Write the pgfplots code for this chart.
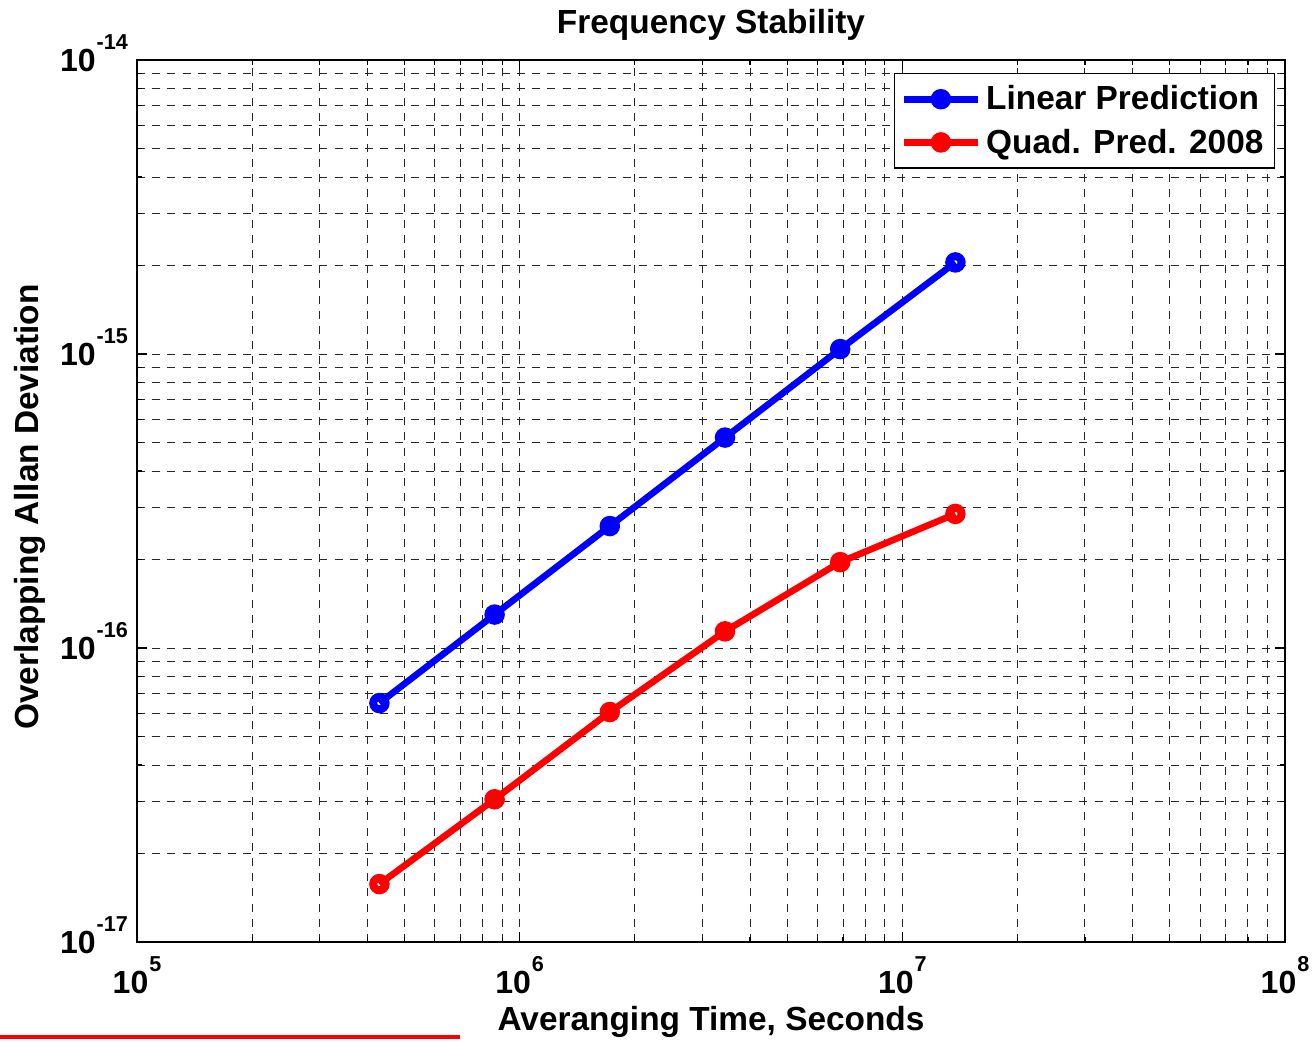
\documentclass[border=0pt]{standalone}
\usepackage{pgfplots}
\pgfplotsset{compat=1.18}
\usepackage{fontspec}
\setmainfont{Liberation Sans}
\newcommand{\tl}[1]{10\hspace{0.5pt}\raisebox{0.7em}{\fontsize{10.8pt}{11pt}\selectfont #1}}
\begin{document}
\begin{tikzpicture}[x=1pt,y=1pt]
\begin{axis}[
  at={(0,0)}, anchor=south west,
  scale only axis, width=574pt, height=441pt,
  xmode=log, ymode=log,
  xmin=1e5, xmax=1e8, ymin=1e-17, ymax=1e-14,
  xtick={1e5,1e6,1e7,1e8},
  xticklabels={\tl{5},\tl{6},\tl{7},\tl{8}},
  ytick={1e-17,1e-16,1e-15,1e-14},
  yticklabels={\tl{-17},\tl{-16},\tl{-15},\tl{-14}},
  ticklabel style={font=\fontsize{16pt}{17pt}\selectfont\bfseries},
  xticklabel style={yshift=-3.5pt},
  yticklabel style={anchor=base east, yshift=-5.7pt, xshift=-1pt},
  grid=both,
  major grid style={black!85, line width=0.5pt, dash pattern=on 4pt off 3.6pt},
  minor grid style={black!85, line width=0.5pt, dash pattern=on 4pt off 3.6pt},
  tick align=inside,
  major tick length=5pt, minor tick length=2.5pt,
  tick style={black, line width=0.6pt},
  axis line style={black, line width=0.8pt},
  title={Frequency Stability},
  title style={font=\fontsize{16.7pt}{18pt}\selectfont\bfseries, at={(rel axis cs:0.5,1)}, anchor=base, yshift=7.5pt},
  xlabel={Averanging Time, Seconds},
  xlabel style={font=\fontsize{16.7pt}{18pt}\selectfont\bfseries, at={(rel axis cs:0.5,0)}, anchor=base, yshift=-44pt},
  ylabel={Overlapping Allan Deviation},
  ylabel style={font=\fontsize{16.7pt}{18pt}\selectfont\bfseries, at={(rel axis cs:0,0.5)}, anchor=center, yshift=53.5pt, xshift=-3pt},
  legend style={at={(rel axis cs:0.9913,0.9853)}, anchor=north east, draw=black, line width=0.6pt,
    font=\fontsize{16.7pt}{18pt}\selectfont\bfseries, inner xsep=3pt, inner ysep=3.5pt, row sep=3pt,
    nodes={inner sep=2.5pt}},
  legend cell align=left,
  legend image code/.code={\draw[#1,mark repeat=2,mark phase=2] plot coordinates {(0pt,0pt)(18.5pt,0pt)(37pt,0pt)};},
]
\addplot[blue, line width=3.3pt, mark=o, mark size=3.1pt, mark options={line width=4pt, solid}] coordinates {
 (4.3e5,6.5e-17) (8.6e5,1.3e-16) (1.72e6,2.6e-16) (3.44e6,5.2e-16) (6.88e6,1.04e-15) (1.376e7,2.05e-15)};
\addlegendentry{Linear Prediction}
\addplot[red, line width=3.3pt, mark=o, mark size=3.1pt, mark options={line width=4pt, solid}] coordinates {
 (4.3e5,1.575e-17) (8.6e5,3.06e-17) (1.72e6,6.06e-17) (3.44e6,1.14e-16) (6.88e6,1.96e-16) (1.376e7,2.86e-16)};
\addlegendentry{Quad. Pred. 2008}
\end{axis}
\draw[red, line width=2pt] (-68.5,-47.5) -- (161.5,-47.5);
\pgfresetboundingbox
\useasboundingbox (-68.5,-49.5) rectangle (589.5,471);
\end{tikzpicture}
\end{document}
